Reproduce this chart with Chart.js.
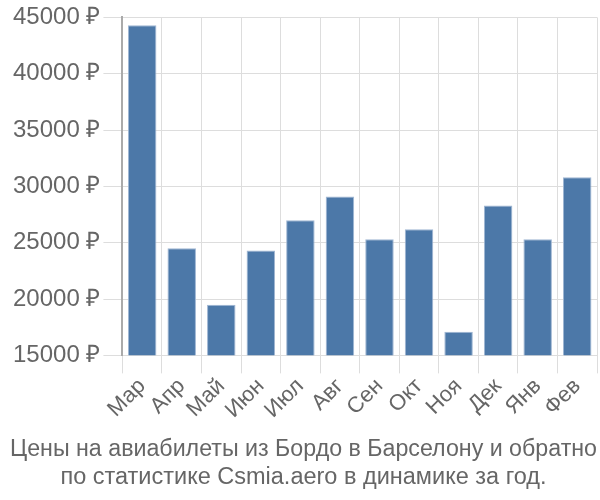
<!DOCTYPE html>
<html>
<head>
<meta charset="utf-8">
<script src="https://cdn.jsdelivr.net/npm/chart.js@4"></script>
<style>
  html, body { margin: 0; padding: 0; background: #fff; }
  #wrap { width: 600px; height: 500px; }
</style>
</head>
<body>
<div id="wrap"><canvas id="chart"></canvas></div>
<script>
const months = ["Мар", "Апр", "Май", "Июн", "Июл", "Авг", "Сен", "Окт", "Ноя", "Дек", "Янв", "Фев"];
const prices = [44300, 24500, 19500, 24300, 27000, 29100, 25300, 26200, 17100, 28300, 25300, 30800];
const titleLines = ["Цены на авиабилеты из Бордо в Барселону и обратно", "по статистике Csmia.aero в динамике за год."];

Chart.defaults.font.family = "'Liberation Sans', Arial, sans-serif";
Chart.defaults.color = "#666";

new Chart(document.getElementById("chart").getContext("2d"), {
  type: "bar",
  data: {
    labels: months,
    datasets: [{
      data: prices,
      backgroundColor: "#4c78a8",
      borderColor: "#9fb6d3",
      borderWidth: 1
    }]
  },
  options: {
    responsive: true,
    maintainAspectRatio: false,
    animation: false,
    layout: { padding: { top: 4, right: 3, left: 10, bottom: 8 } },
    plugins: {
      legend: { display: false },
      tooltip: { enabled: false },
      title: {
        display: true,
        position: "bottom",
        text: titleLines,
        color: "#666",
        font: { size: 23.5, weight: "normal" },
        padding: { top: 4, bottom: 0 },
        lineHeight: 1.12
      }
    },
    scales: {
      x: {
        grid: { color: "#ddd", offset: true, tickLength: 18 },
        border: { color: "#ddd" },
        ticks: { font: { size: 22 }, autoSkip: false, maxRotation: 45, minRotation: 45, color: "#666", padding: 0 },
        // leave a bit more room under the plot, like the reference
        afterFit: (scale) => { scale.height += 8; }
      },
      y: {
        min: 15000,
        max: 45000,
        grid: { color: "#ddd", tickLength: 19 },
        border: { color: "#aaa", width: 2 },
        ticks: {
          stepSize: 5000,
          font: { size: 24 },
          color: "#666",
          padding: 3,
          callback: (v) => v + " ₽"
        }
      }
    }
  }
});
</script>
</body>
</html>
